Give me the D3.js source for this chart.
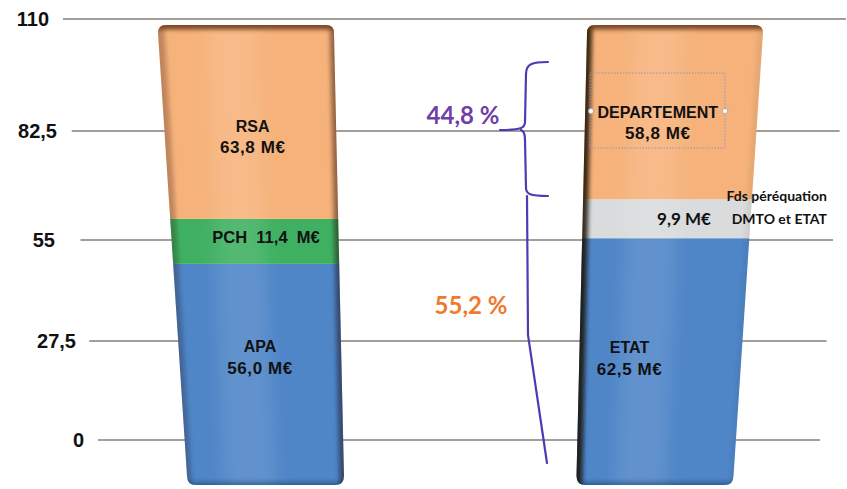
<!DOCTYPE html>
<html>
<head>
<meta charset="utf-8">
<script src="https://cdn.jsdelivr.net/npm/d3@7"></script>
<style>
  html, body { margin: 0; padding: 0; background: #fff; }
  svg { display: block; }
</style>
</head>
<body>
<svg id="chart" width="847" height="489"></svg>
<script>
// ---------------- DATA ----------------
const barNames = ["Dépenses", "Financement"];
const leftLabels = ["APA", "PCH", "RSA"];
const leftValues = [56.0, 11.4, 63.8];
const rightLabels = ["ETAT", "Fds péréquation DMTO et ETAT", "DEPARTEMENT"];
const rightValues = [62.5, 9.9, 58.8];
const tickValues = [0, 27.5, 55, 82.5, 110];
const tickLabels = ["0", "27,5", "55", "82,5", "110"];
const shareLabels = ["55,2 %", "44,8 %"];

// ---------------- STYLE / LAYOUT ----------------
const W = 847, H = 489;
const colors = {
  APA: "#4f86c8", PCH: "#3fb062", RSA: "#f6b27a",
  ETAT: "#4f86c8", "Fds péréquation DMTO et ETAT": "#d9dbdc", DEPARTEMENT: "#f6b27a"
};
const fmt = v => d3.format(".1f")(v).replace(".", ",") + " M€";

const svg = d3.select("#chart");
const defs = svg.append("defs");
function blurFilter(id, sd) {
  defs.append("filter").attr("id", id)
    .attr("filterUnits", "userSpaceOnUse")
    .attr("x", 0).attr("y", 0).attr("width", W).attr("height", H)
    .append("feGaussianBlur").attr("stdDeviation", sd);
}
blurFilter("blur", 2.2);
blurFilter("blurWide", 8);

// Axis scale (gridline positions as seen in the slide)
const yLeft = d3.scaleLinear().domain(tickValues).range([440, 341, 240, 131, 19]);
const gridX0 = d3.scaleLinear().domain([0, 110]).range([98, 63]);
const gridX1 = d3.scaleLinear().domain([0, 110]).range([820, 846]);
const labelRight = [84, 76, 55, 57, 49];

// Bar value scale (bars drawn from their own base, top clipped)
const yMax = 116.5;
const yBar = d3.scaleLinear().domain([0, yMax]).range([485, 25]).clamp(true);
// Bar centres at the top / bottom (perspective) and widths
const xTop = d3.scalePoint().domain(barNames).range([246, 675]);
const xBot = d3.scalePoint().domain(barNames).range([265.5, 655]);
const topWidth = 176, botWidth = 157;

// Gridlines
const grid = svg.append("g");
tickValues.forEach((v, i) => {
  grid.append("line")
    .attr("x1", gridX0(v)).attr("y1", yLeft(v))
    .attr("x2", gridX1(v)).attr("y2", yLeft(v))
    .attr("stroke", "#857c7a").attr("stroke-width", 1.6);
  grid.append("text")
    .attr("x", labelRight[i]).attr("y", yLeft(v))
    .attr("dy", "0.36em")
    .attr("text-anchor", "end")
    .attr("font-family", "Liberation Sans, Arial, sans-serif")
    .attr("font-weight", "bold").attr("font-size", 20)
    .attr("fill", "#111")
    .text(tickLabels[i]);
});

// Bars
const bars = [
  { name: barNames[0], labels: leftLabels, values: leftValues,
    shade: { left: 0.25, right: 0.45 },
    labelPos: [{dx: 0, dy: -18}, {dx: 11, dy: -4}, {dx: 2, dy: 14}] },
  { name: barNames[1], labels: rightLabels, values: rightValues,
    shade: { left: 0.85, right: 0.06 },
    labelPos: [{dx: -31, dy: -4}, null, {dx: -13, dy: 10}] }
];

function edgeX(b, y) {
  const t = (y - yBar(yMax)) / (yBar(0) - yBar(yMax));
  const cTop = xTop(b.name), cBot = xBot(b.name);
  const left = (cTop - topWidth / 2) + t * ((cBot - botWidth / 2) - (cTop - topWidth / 2));
  const right = (cTop + topWidth / 2) + t * ((cBot + botWidth / 2) - (cTop + topWidth / 2));
  return [left, right];
}

function barPath(b) {
  const yt = yBar(yMax), yb = yBar(0);
  const [tl, tr] = edgeX(b, yt);
  const [bl, br] = edgeX(b, yb);
  const r = 8, rb = 9;
  return `M${tl + r},${yt} L${tr - r},${yt} Q${tr},${yt} ${tr},${yt + r}
          L${br},${yb - rb} Q${br},${yb} ${br - rb},${yb}
          L${bl + rb},${yb} Q${bl},${yb} ${bl},${yb - rb}
          L${tl},${yt + r} Q${tl},${yt} ${tl + r},${yt} Z`;
}

bars.forEach((b, bi) => {
  const clipId = "clip" + bi;
  defs.append("clipPath").attr("id", clipId).append("path").attr("d", barPath(b));
  const g = svg.append("g").attr("clip-path", `url(#${clipId})`);
  const [l0, r0] = edgeX(b, yBar(yMax));
  const [l1, r1] = edgeX(b, yBar(0));
  const xmin = Math.min(l0, l1) - 5, xmax = Math.max(r0, r1) + 5;

  let cum = 0;
  const segs = b.values.map((v, i) => {
    const s = { label: b.labels[i], value: v, y0: cum, y1: cum + v };
    cum += v;
    return s;
  });

  g.selectAll("rect.seg").data(segs).enter().append("rect")
    .attr("class", "seg")
    .attr("x", xmin).attr("width", xmax - xmin)
    .attr("y", d => yBar(d.y1))
    .attr("height", d => yBar(d.y0) - yBar(d.y1))
    .attr("fill", d => colors[d.label]);

  // soft central highlight
  g.append("line")
    .attr("x1", (l0 + r0) / 2 - 15).attr("y1", yBar(yMax) - 20)
    .attr("x2", (l1 + r1) / 2 - 15).attr("y2", yBar(0) + 20)
    .attr("stroke", "#fff").attr("stroke-opacity", 0.10).attr("stroke-width", 50)
    .attr("filter", "url(#blurWide)");

  // edge shading
  g.append("line")
    .attr("x1", l0).attr("y1", yBar(yMax) - 10).attr("x2", l1).attr("y2", yBar(0) + 10)
    .attr("stroke", "#1a0d05").attr("stroke-opacity", b.shade.left).attr("stroke-width", 11)
    .attr("filter", "url(#blur)");
  g.append("line")
    .attr("x1", r0).attr("y1", yBar(yMax) - 10).attr("x2", r1).attr("y2", yBar(0) + 10)
    .attr("stroke", "#1a0d05").attr("stroke-opacity", b.shade.right).attr("stroke-width", 9)
    .attr("filter", "url(#blur)");
  // top rim
  g.append("line")
    .attr("x1", xmin).attr("y1", yBar(yMax)).attr("x2", xmax).attr("y2", yBar(yMax))
    .attr("stroke", "#6b3a1c").attr("stroke-opacity", 0.9).attr("stroke-width", 9)
    .attr("filter", "url(#blur)");
  // bottom dark shading
  g.append("line")
    .attr("x1", xmin).attr("y1", yBar(0)).attr("x2", xmax).attr("y2", yBar(0))
    .attr("stroke", "#10243f").attr("stroke-opacity", 0.4).attr("stroke-width", 6)
    .attr("filter", "url(#blur)");

  // labels
  segs.forEach((s, i) => {
    const lp = b.labelPos[i];
    if (!lp) return;
    const yc = (yBar(s.y0) + yBar(s.y1)) / 2 + lp.dy;
    const [el, er] = edgeX(b, yc);
    const xc = (el + er) / 2 + lp.dx;
    const t = svg.append("text")
      .attr("x", xc).attr("text-anchor", "middle")
      .attr("font-family", "Liberation Sans, Arial, sans-serif")
      .attr("font-weight", "bold").attr("font-size", 16)
      .attr("fill", "#111");
    if (s.label === "PCH") {
      t.attr("y", yc).attr("dy", "0.36em").attr("xml:space", "preserve")
        .attr("font-size", 16.5)
        .text(`${s.label}  ${fmt(s.value).replace(" ", "  ")}`);
    } else {
      t.append("tspan").attr("x", xc).attr("y", yc - 10).attr("dy", "0.36em").text(s.label);
      t.append("tspan").attr("x", xc).attr("y", yc + 11).attr("dy", "0.36em")
        .attr("font-size", 17).attr("letter-spacing", 0.6).text(fmt(s.value));
    }
  });

  // special label for the small grey segment
  if (bi === 1) {
    const s = segs[1];
    const yc = (yBar(s.y0) + yBar(s.y1)) / 2;
    svg.append("text")
      .attr("x", 684).attr("y", yc).attr("dy", "0.36em")
      .attr("text-anchor", "middle")
      .attr("font-family", "Lato, sans-serif").attr("font-weight", "bold").attr("font-size", 17)
      .attr("fill", "#111").text(fmt(s.value));
    const words = ["Fds péréquation", "DMTO et ETAT"];
    words.forEach((w, k) => {
      svg.append("text")
        .attr("x", 827).attr("y", yc - 23 + k * 23).attr("dy", "0.36em")
        .attr("text-anchor", "end")
        .attr("font-family", "Lato, sans-serif").attr("font-weight", "bold").attr("font-size", 14)
        .attr("fill", "#111").text(w);
    });
    // selection-style dotted box around DEPARTEMENT label
    const d = segs[2];
    const ydc = (yBar(d.y0) + yBar(d.y1)) / 2 + b.labelPos[2].dy;
    const bx0 = 590, bx1 = 725;
    svg.append("rect")
      .attr("x", bx0).attr("y", ydc - 49).attr("width", bx1 - bx0).attr("height", 75)
      .attr("fill", "none").attr("stroke", "#9c92c4").attr("stroke-width", 1)
      .attr("stroke-dasharray", "1.5,1.5");
    [bx0 + 1, bx1].forEach(cx => {
      svg.append("circle").attr("cx", cx).attr("cy", ydc - 11).attr("r", 2.6)
        .attr("fill", "#fff").attr("stroke", "#a0a0a0").attr("stroke-width", 0.8);
    });
  }
});

// Bracket annotation
const bracketColor = "#4a3db4";
const br = svg.append("g").attr("fill", "none").attr("stroke", bracketColor)
  .attr("stroke-width", 2.2).attr("stroke-linecap", "round");
br.append("path").attr("d",
  "M548,62 C532,62 526,64 526,74 L525,122 C525,128 521,130 500,130 " +
  "M521,130 C524,131 525,134 525,140 L526,188 C526,194 530,196 548,196");
br.append("path").attr("d", "M527,196 L528,335 L547,463");

// Percent labels
svg.append("text")
  .attr("x", 463).attr("y", 115).attr("dy", "0.36em").attr("text-anchor", "middle")
  .attr("font-family", "Lato, sans-serif").attr("font-weight", "bold").attr("font-size", 24)
  .attr("fill", "#7040a8").text(shareLabels[1]);
svg.append("text")
  .attr("x", 471).attr("y", 305).attr("dy", "0.36em").attr("text-anchor", "middle")
  .attr("font-family", "Lato, sans-serif").attr("font-weight", "bold").attr("font-size", 24)
  .attr("fill", "#f07a2c").text(shareLabels[0]);
</script>
</body>
</html>
